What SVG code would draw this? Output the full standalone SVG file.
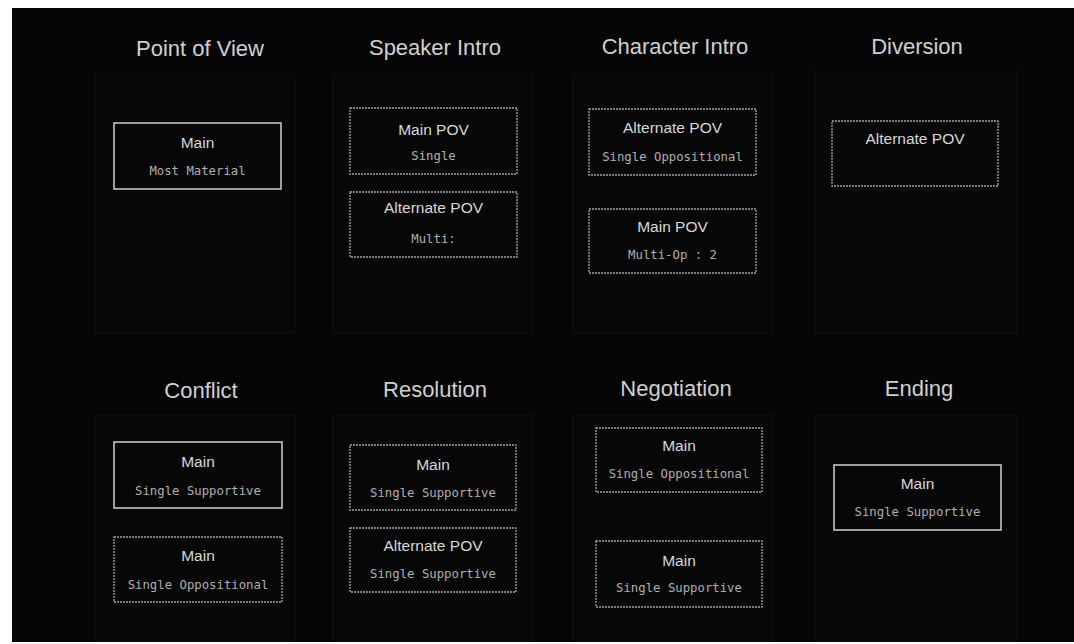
<svg xmlns="http://www.w3.org/2000/svg" width="1074" height="644" viewBox="0 0 1074 644">
<style>
.bg{fill:#050505}
.panel{fill:#070707;stroke:#101010;stroke-width:1}
.hdr{font-family:"Liberation Sans",Arial,sans-serif;font-size:22px;fill:#d0d0d0;text-anchor:middle}
.t1{font-family:"Liberation Sans",Arial,sans-serif;font-size:15.5px;fill:#d8d8d8;text-anchor:middle}
.t2{font-family:"DejaVu Sans Mono",monospace;font-size:12.3px;fill:#b0b0b0;text-anchor:middle}
.bs{fill:none;stroke:#d0d0d0;stroke-width:1.5}
.bd{fill:none;stroke:#a4a4a4;stroke-width:1.3;stroke-dasharray:2 1}
</style>
<rect x="0" y="0" width="1074" height="644" fill="#ffffff"/>
<rect class="bg" x="12" y="8" width="1062" height="634"/>
<g id="panels">
<rect class="panel" x="95" y="74" width="200" height="259"/>
<rect class="panel" x="333" y="74" width="200" height="259"/>
<rect class="panel" x="573" y="72" width="200" height="261"/>
<rect class="panel" x="815" y="72" width="202" height="261"/>
<rect class="panel" x="95" y="415" width="200" height="226"/>
<rect class="panel" x="333" y="415" width="200" height="226"/>
<rect class="panel" x="573" y="415" width="200" height="226"/>
<rect class="panel" x="815" y="415" width="202" height="226"/>
</g>
<g id="headers">
<text class="hdr" x="200" y="56">Point of View</text>
<text class="hdr" x="435" y="55">Speaker Intro</text>
<text class="hdr" x="675" y="54">Character Intro</text>
<text class="hdr" x="917" y="54">Diversion</text>
<text class="hdr" x="201" y="398">Conflict</text>
<text class="hdr" x="435" y="397">Resolution</text>
<text class="hdr" x="676" y="396">Negotiation</text>
<text class="hdr" x="919" y="396">Ending</text>
</g>
<g id="connectors"></g>
<g id="pov-main">
<rect class="bs" x="114" y="123" width="167" height="66"/>
<text class="t1" x="197.5" y="148">Main</text>
<text class="t2" x="197.5" y="175">Most Material</text>
</g>
<g id="speaker-main">
<rect class="bd" x="350" y="108" width="167" height="66"/>
<text class="t1" x="433.5" y="135">Main POV</text>
<text class="t2" x="433.5" y="160">Single</text>
</g>
<g id="speaker-alt">
<rect class="bd" x="350" y="192" width="167" height="65"/>
<text class="t1" x="433.5" y="213">Alternate POV</text>
<text class="t2" x="433.5" y="243">Multi:</text>
</g>
<g id="character-alt">
<rect class="bd" x="589" y="109" width="167" height="66"/>
<text class="t1" x="672.5" y="133">Alternate POV</text>
<text class="t2" x="672.5" y="161">Single Oppositional</text>
</g>
<g id="character-main">
<rect class="bd" x="589" y="209" width="167" height="64"/>
<text class="t1" x="672.5" y="232">Main POV</text>
<text class="t2" x="672.5" y="259">Multi-Op : 2</text>
</g>
<g id="diversion-alt">
<rect class="bd" x="832" y="121" width="166" height="65"/>
<text class="t1" x="915" y="144">Alternate POV</text>
</g>
<g id="conflict-main-supportive">
<rect class="bs" x="114" y="442" width="168" height="66"/>
<text class="t1" x="198" y="467">Main</text>
<text class="t2" x="198" y="495">Single Supportive</text>
</g>
<g id="conflict-main-oppositional">
<rect class="bd" x="114" y="537" width="168" height="65"/>
<text class="t1" x="198" y="561">Main</text>
<text class="t2" x="198" y="589">Single Oppositional</text>
</g>
<g id="resolution-main">
<rect class="bd" x="350" y="445" width="166" height="65"/>
<text class="t1" x="433" y="470">Main</text>
<text class="t2" x="433" y="497">Single Supportive</text>
</g>
<g id="resolution-alt">
<rect class="bd" x="350" y="528" width="166" height="64"/>
<text class="t1" x="433" y="551">Alternate POV</text>
<text class="t2" x="433" y="578">Single Supportive</text>
</g>
<g id="negotiation-main-oppositional">
<rect class="bd" x="596" y="428" width="166" height="64"/>
<text class="t1" x="679" y="451">Main</text>
<text class="t2" x="679" y="478">Single Oppositional</text>
</g>
<g id="negotiation-main-supportive">
<rect class="bd" x="596" y="541" width="166" height="66"/>
<text class="t1" x="679" y="566">Main</text>
<text class="t2" x="679" y="592">Single Supportive</text>
</g>
<g id="ending-main">
<rect class="bs" x="834" y="465" width="167" height="65"/>
<text class="t1" x="917.5" y="489">Main</text>
<text class="t2" x="917.5" y="516">Single Supportive</text>
</g>
</svg>
